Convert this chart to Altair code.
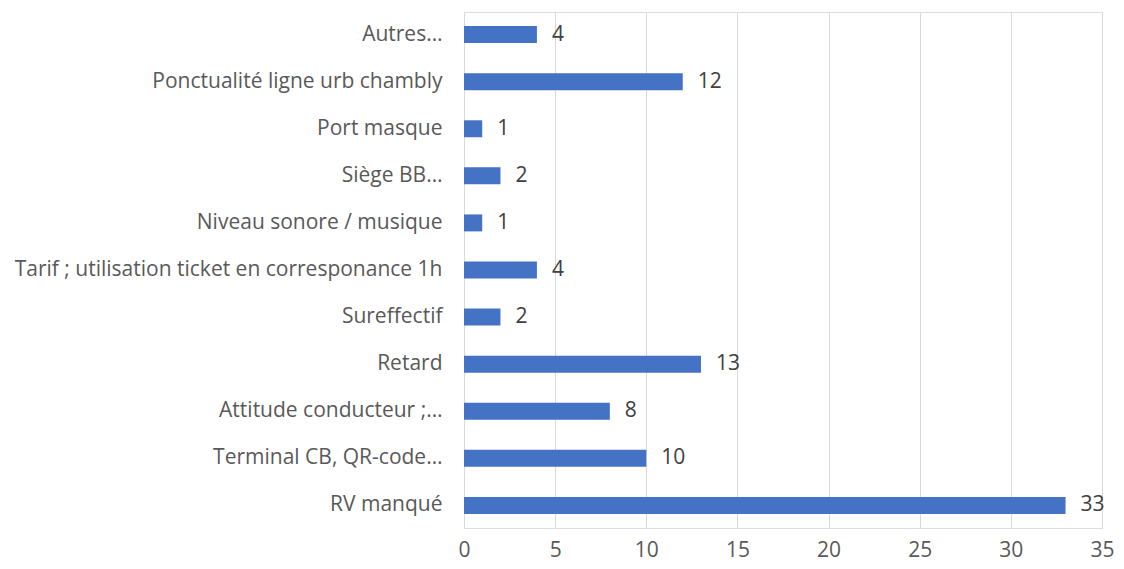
import altair as alt
import pandas as pd

categories = [
    "Autres…",
    "Ponctualité ligne urb chambly",
    "Port masque",
    "Siège BB…",
    "Niveau sonore / musique",
    "Tarif ; utilisation ticket en corresponance 1h",
    "Sureffectif",
    "Retard",
    "Attitude conducteur ;…",
    "Terminal CB, QR-code…",
    "RV manqué",
]
values = [4, 12, 1, 2, 1, 4, 2, 13, 8, 10, 33]

df = pd.DataFrame({"cat": categories, "val": values})

FONT = "Open Sans"
GREY = "#595959"
FS = 21

y = alt.Y(
    "cat:N",
    sort=categories,
    title=None,
    scale=alt.Scale(paddingInner=0.64, paddingOuter=0.3),
    axis=alt.Axis(
        labelFont=FONT, labelFontSize=FS, labelColor=GREY, labelPadding=22,
        ticks=False, domain=False, labelLimit=500,
    ),
)
x = alt.X(
    "val:Q",
    title=None,
    scale=alt.Scale(domain=[0, 35], nice=False),
    axis=alt.Axis(
        values=[0, 5, 10, 15, 20, 25, 30, 35],
        labelFont=FONT, labelFontSize=FS, labelColor=GREY, labelPadding=11,
        labelFlush=False,
        ticks=False, domain=False, grid=True, gridColor="#d9d9d9", gridWidth=1,
    ),
)

bars = alt.Chart(df).mark_bar(color="#4472c4").encode(x=x, y=y)
labels = alt.Chart(df).mark_text(
    align="left", baseline="middle", dx=15, font=FONT, fontSize=FS, color="#404040"
).encode(x="val:Q", y=alt.Y("cat:N", sort=categories), text="val:Q")

chart = (bars + labels).properties(
    width=638, height=516,
    autosize=alt.AutoSizeParams(type="none"),
    padding={"left": 456, "top": 4, "right": 13, "bottom": 40},
).configure_view(stroke=None).configure(background="white")

chart.save("out.html", embed_options={"renderer": "svg", "actions": False})
